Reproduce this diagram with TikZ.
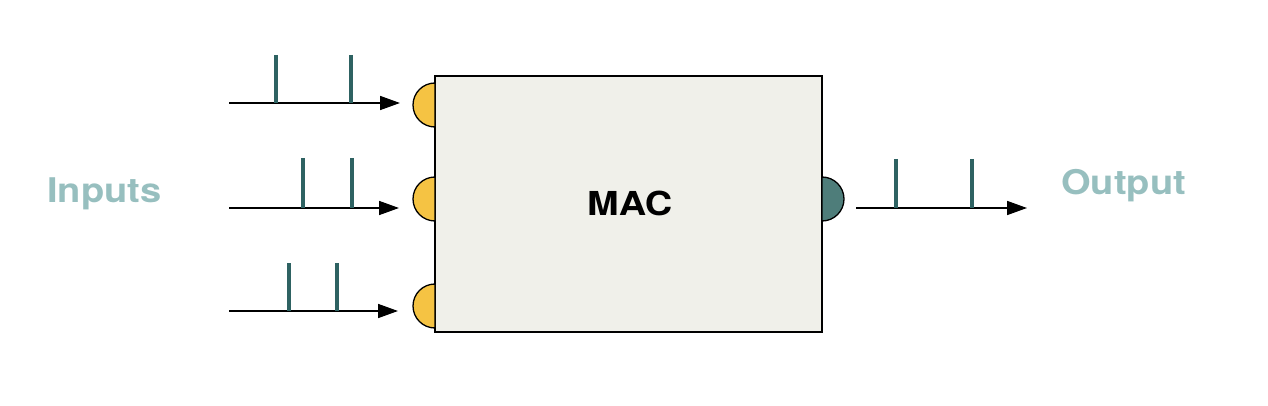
\documentclass[tikz,border=0pt]{standalone}
\usepackage{fontspec}
\setmainfont{TeX Gyre Heros}
\newfontfamily\widefont[FakeStretch=1.12]{TeX Gyre Heros}
\newfontfamily\blockfont[FakeStretch=1.15]{TeX Gyre Heros}
\usetikzlibrary{arrows.meta}
\definecolor{boxfill}{HTML}{F0F0EA}
\definecolor{portin}{HTML}{F5C343}
\definecolor{portout}{HTML}{4E7D7A}
\definecolor{spikecol}{HTML}{2E6262}
\definecolor{labelcol}{HTML}{97BFBF}

\begin{document}
\begin{tikzpicture}[
    x = 1pt, y = -1pt,
    signal/.style = {line width=1.6pt, -{Triangle[length=20pt, width=14pt]}},
    spike/.style = {line width=4pt, spikecol},
    port/.style = {draw, line width=1.3pt},
    label/.style = {font=\widefont\bfseries\fontsize{34}{34}\selectfont, labelcol,
                    anchor=base west, inner sep=0pt}]

\useasboundingbox (0,0) rectangle (1268,406);

% block
\node[draw, line width=1.5pt, fill=boxfill, minimum width=387pt, minimum height=256pt,
      inner sep=0pt] (mac) at (628.5,204) {};
\node[font=\blockfont\bfseries\fontsize{33}{33}\selectfont, anchor=base west, inner sep=0pt]
      (mactext) at (587,215) {MAC};

% ports
\draw[port, fill=portin] (435,83) arc[start angle=90, end angle=270, radius=22pt] -- cycle
      (435,177) arc[start angle=90, end angle=270, radius=22pt] -- cycle
      (435,284) arc[start angle=90, end angle=270, radius=22pt] -- cycle;
\draw[port, fill=portout] (822,177) arc[start angle=90, end angle=-90, radius=22pt] -- cycle;

% signal lines
\coordinate (in1s) at (229,103);  \coordinate (in1e) at (400,103);
\coordinate (in2s) at (229,208);  \coordinate (in2e) at (399,208);
\coordinate (in3s) at (229,311);  \coordinate (in3e) at (398,311);
\coordinate (outs) at (856,208);  \coordinate (oute) at (1027,208);
\draw[signal] (in1s) -- (in1e);
\draw[signal] (in2s) -- (in2e);
\draw[signal] (in3s) -- (in3e);
\draw[signal] (outs) -- (oute);

% spikes
\draw[spike] (276,55) -- (276,103)  (351,55) -- (351,103)
      (303,158) -- (303,208)  (352,158) -- (352,208)
      (289,263) -- (289,311)  (337,263) -- (337,311)
      (896,159) -- (896,208)  (972,159) -- (972,208);

% labels
\path (47,202) node[label] (inputs) {Inputs}
      (1061,195) node[label] (output) {Output};
\end{tikzpicture}
\end{document}
